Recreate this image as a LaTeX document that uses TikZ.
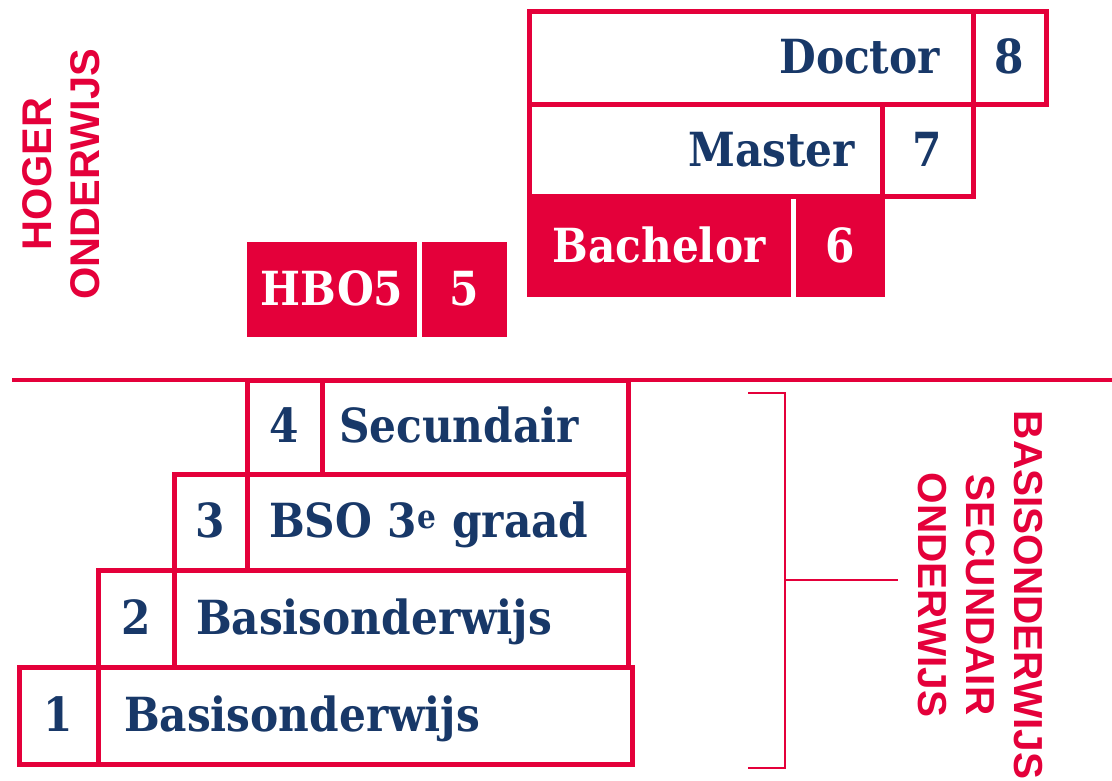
\documentclass[tikz,border=0pt]{standalone}
\usepackage{fontspec}
\setmainfont{DejaVu Serif}
\newfontfamily\boxfont{DejaVu Serif Condensed}
\newfontfamily\sidefont{Liberation Sans}
\usepackage{tikz}
\usetikzlibrary{positioning}
\definecolor{hbored}{RGB}{228,0,58}
\definecolor{hboblue}{RGB}{24,56,104}

\begin{document}
\begin{tikzpicture}[x=1pt,y=-1pt,
  cell/.style={draw=hbored,line width=5pt,inner sep=0pt,outer sep=0pt,
    text=hboblue,font=\boxfont\bfseries\fontsize{47}{52}\selectfont,text height=34pt,text depth=3pt},
  redcell/.style={fill=hbored,inner sep=0pt,outer sep=0pt,text=white,
    font=\boxfont\bfseries\fontsize{47}{52}\selectfont,text height=34pt,text depth=3pt},
  rule/.style={draw=hbored,line width=3.5pt},
  side/.style={text=hbored,align=center,
    font=\sidefont\bfseries\fontsize{40.5}{48}\selectfont}]
\useasboundingbox (0,0) rectangle (1112,781);
% hoger onderwijs
\node[cell,anchor=north west,minimum width=444pt,minimum height=93pt,
  inner xsep=33pt,text width=378pt,align=right] (doc) at (529,12) {Doctor};
\node[cell,right=0pt of doc,minimum width=73pt,minimum height=93pt] (docnr) {8};
\node[cell,below=0pt of doc.south west,anchor=north west,minimum width=353pt,
  minimum height=92pt,inner xsep=27pt,text width=299pt,align=right] (mas) {Master};
\node[cell,right=0pt of mas,minimum width=91pt,minimum height=92pt] (masnr) {7};
\node[redcell,anchor=north west,minimum width=264pt,minimum height=100pt] (bach) at (527,197) {Bachelor};
\node[redcell,right=5pt of bach,minimum width=89pt,minimum height=100pt] (bachnr) {6};
\node[redcell,anchor=north west,minimum width=170pt,minimum height=95pt] (hbo) at (247,242) {HBO5};
\node[redcell,right=5pt of hbo,minimum width=85pt,minimum height=95pt] (hbonr) {5};
% basis en secundair
\draw[rule] (12,380) -- (1112,380);
\node[cell,anchor=north west,minimum width=75pt,minimum height=94pt] (nr4) at (247,380) {4};
\node[cell,right=0pt of nr4,minimum width=306pt,minimum height=94pt,
  inner xsep=17pt,text width=272pt,align=left] (sec) {Secundair};
\node[cell,anchor=north west,minimum width=73pt,minimum height=96pt] (nr3) at (174,474) {3};
\node[cell,right=0pt of nr3,minimum width=381pt,minimum height=96pt,
  inner xsep=22pt,text width=337pt,align=left] (bso) {BSO 3\textsuperscript{e} graad};
\node[cell,anchor=north west,minimum width=76pt,minimum height=97pt] (nr2) at (98,570) {2};
\node[cell,right=0pt of nr2,minimum width=454pt,minimum height=97pt,
  inner xsep=22pt,text width=410pt,align=left] (bas2) {Basisonderwijs};
\node[cell,anchor=north west,minimum width=79pt,minimum height=97pt] (nr1) at (19,667) {1};
\node[cell,right=0pt of nr1,minimum width=534pt,minimum height=97pt,
  inner xsep=26pt,text width=482pt,align=left] (bas1) {Basisonderwijs};
% bracket
\draw[rule,line width=2.5pt] (748,393) -- (785,393) -- (785,768) -- (748,768)
      (785,580) -- (898,580);
% side labels
\node[side,rotate=90,font=\sidefont\bfseries\fontsize{41.5}{48}\selectfont] (hoger) at (61,174) {HOGER\\ONDERWIJS};
\node[side,rotate=-90] (basis) at (980,595) {BASISONDERWIJS\\SECUNDAIR\\ONDERWIJS};
\end{tikzpicture}
\end{document}
